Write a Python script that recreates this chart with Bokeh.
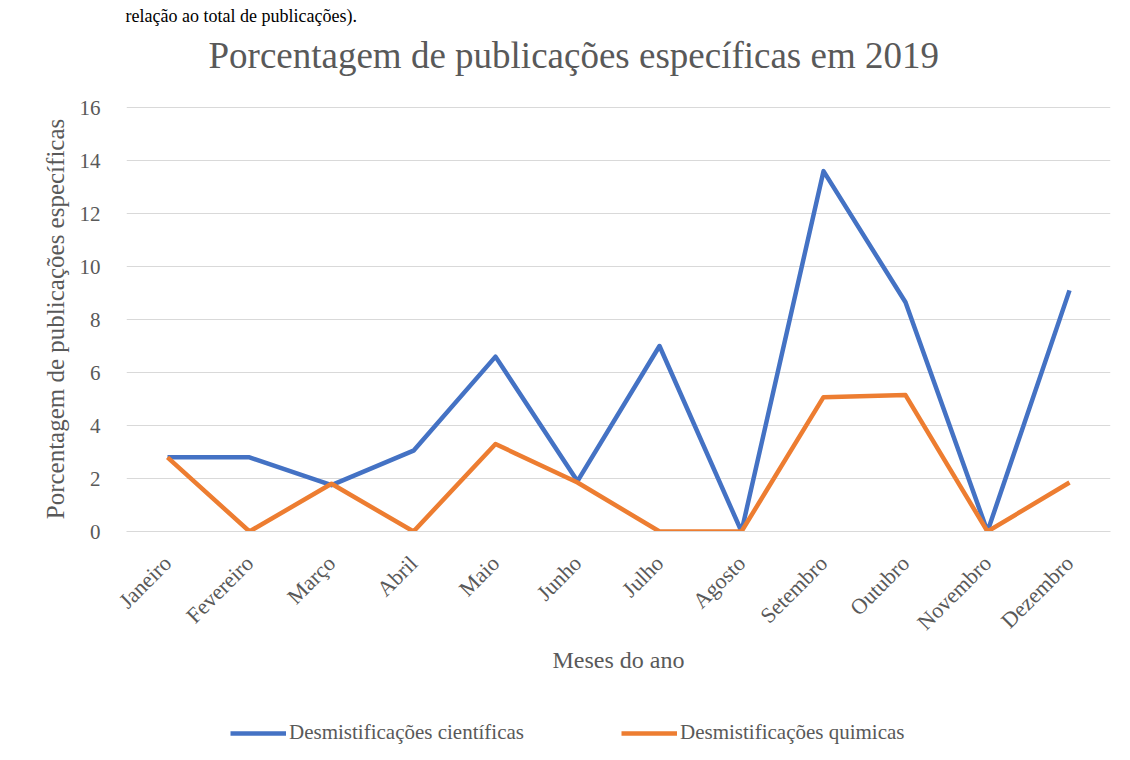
import math
from bokeh.plotting import figure
from bokeh.layouts import column
from bokeh.models import (FactorRange, Range1d, FixedTicker, Legend, LegendItem, Title)
from bokeh.embed import file_html
from bokeh.resources import INLINE

months = ["Janeiro", "Fevereiro", "Março", "Abril", "Maio", "Junho", "Julho",
          "Agosto", "Setembro", "Outubro", "Novembro", "Dezembro"]
cientificas = [2.8, 2.8, 1.75, 3.05, 6.6, 1.9, 7.0, 0.0, 13.6, 8.65, 0.0, 9.1]
quimicas = [2.8, 0.0, 1.8, 0.0, 3.3, 1.85, 0.0, 0.0, 5.07, 5.15, 0.0, 1.85]
y_ticks = [0, 2, 4, 6, 8, 10, 12, 14, 16]

title_text = "Porcentagem  de publicações  específicas  em 2019"
x_label = "Meses do ano"
y_label = "Porcentagem de publicações específicas"
series_names = ["Desmistificações científicas", "Desmistificações quimicas"]
top_text = "relação ao total de publicações)."

FONT = "Liberation Serif"
GRAY = "#595959"
BLUE = "#4472C4"
ORANGE = "#ED7D31"
GRID = "#d9d9d9"

p = figure(frame_width=984, frame_height=425,
           x_range=FactorRange(*months, range_padding=0),
           y_range=Range1d(0, 16.04), output_backend="svg", toolbar_location=None,
           min_border_left=126, min_border_right=18, min_border_top=106,
           min_border_bottom=166)
p.outline_line_color = None
p.background_fill_color = "white"
p.border_fill_color = "white"

# text of the surrounding document, above the chart (outermost)
p.title.text = top_text
p.title.align = "left"
p.title.offset = -1
p.title.text_font = FONT
p.title.text_font_size = "18px"
p.title.text_font_style = "normal"
p.title.text_color = "black"
p.title.standoff = 0

# spacer between chart title and plot area, then the chart title
p.add_layout(Title(text=" ", text_font_size="20px", standoff=0), "above")
p.add_layout(Title(text=title_text, align="left", offset=82,
                   text_font=FONT, text_font_size="37px", text_font_style="normal",
                   text_color=GRAY, standoff=14), "above")

p.xgrid.grid_line_color = None
p.ygrid.grid_line_color = GRID
p.ygrid.grid_line_width = 1
p.yaxis.ticker = FixedTicker(ticks=y_ticks)

for ax in (p.xaxis[0], p.yaxis[0]):
    ax.major_tick_line_color = None
    ax.minor_tick_line_color = None
    ax.major_label_text_font = FONT
    ax.major_label_text_color = GRAY
    ax.axis_label_text_font = FONT
    ax.axis_label_text_color = GRAY
    ax.axis_label_text_font_style = "normal"

p.yaxis.axis_line_color = None
p.yaxis.major_label_text_font_size = "21px"
p.yaxis.major_label_standoff = 20
p.yaxis.axis_label = y_label
p.yaxis.axis_label_text_font_size = "25px"
p.yaxis.axis_label_standoff = 8

p.xaxis.axis_line_color = GRID
p.xaxis.major_label_text_font_size = "22px"
p.xaxis.major_label_orientation = math.pi / 4
p.xaxis.major_label_standoff = 22
p.xaxis.axis_label = x_label
p.xaxis.axis_label_text_font_size = "24px"
p.xaxis.axis_label_standoff = 0

p.line(months, cientificas, line_color=BLUE, line_width=4.5, line_join="round")
p.line(months, quimicas, line_color=ORANGE, line_width=4.5, line_join="round")

# legend strip below the chart (its own renderers, drawn out of view)
lf = figure(width=1128, height=61, x_range=FactorRange(*months, range_padding=0),
            y_range=Range1d(100, 101), output_backend="svg", toolbar_location=None,
            x_axis_location=None, y_axis_location=None, min_border=0)
lf.grid.visible = False
lf.outline_line_color = None
lf.background_fill_color = "white"
lf.border_fill_color = "white"
l1 = lf.line(months, cientificas, line_color=BLUE, line_width=4.5)
l2 = lf.line(months, quimicas, line_color=ORANGE, line_width=4.5)

legend = Legend(items=[LegendItem(label=series_names[0], renderers=[l1]),
                       LegendItem(label=series_names[1], renderers=[l2])],
                orientation="horizontal", location=(104, 13),
                padding=0, margin=0, spacing=63, border_line_color=None,
                background_fill_alpha=0, glyph_width=56, glyph_height=20,
                label_height=20, label_width=269, label_standoff=3,
                label_text_font=FONT, label_text_font_size="21px",
                label_text_color=GRAY)
lf.add_layout(legend, "center")

layout = column(p, lf, spacing=0)
open("out.html", "w").write(file_html(layout, INLINE))
